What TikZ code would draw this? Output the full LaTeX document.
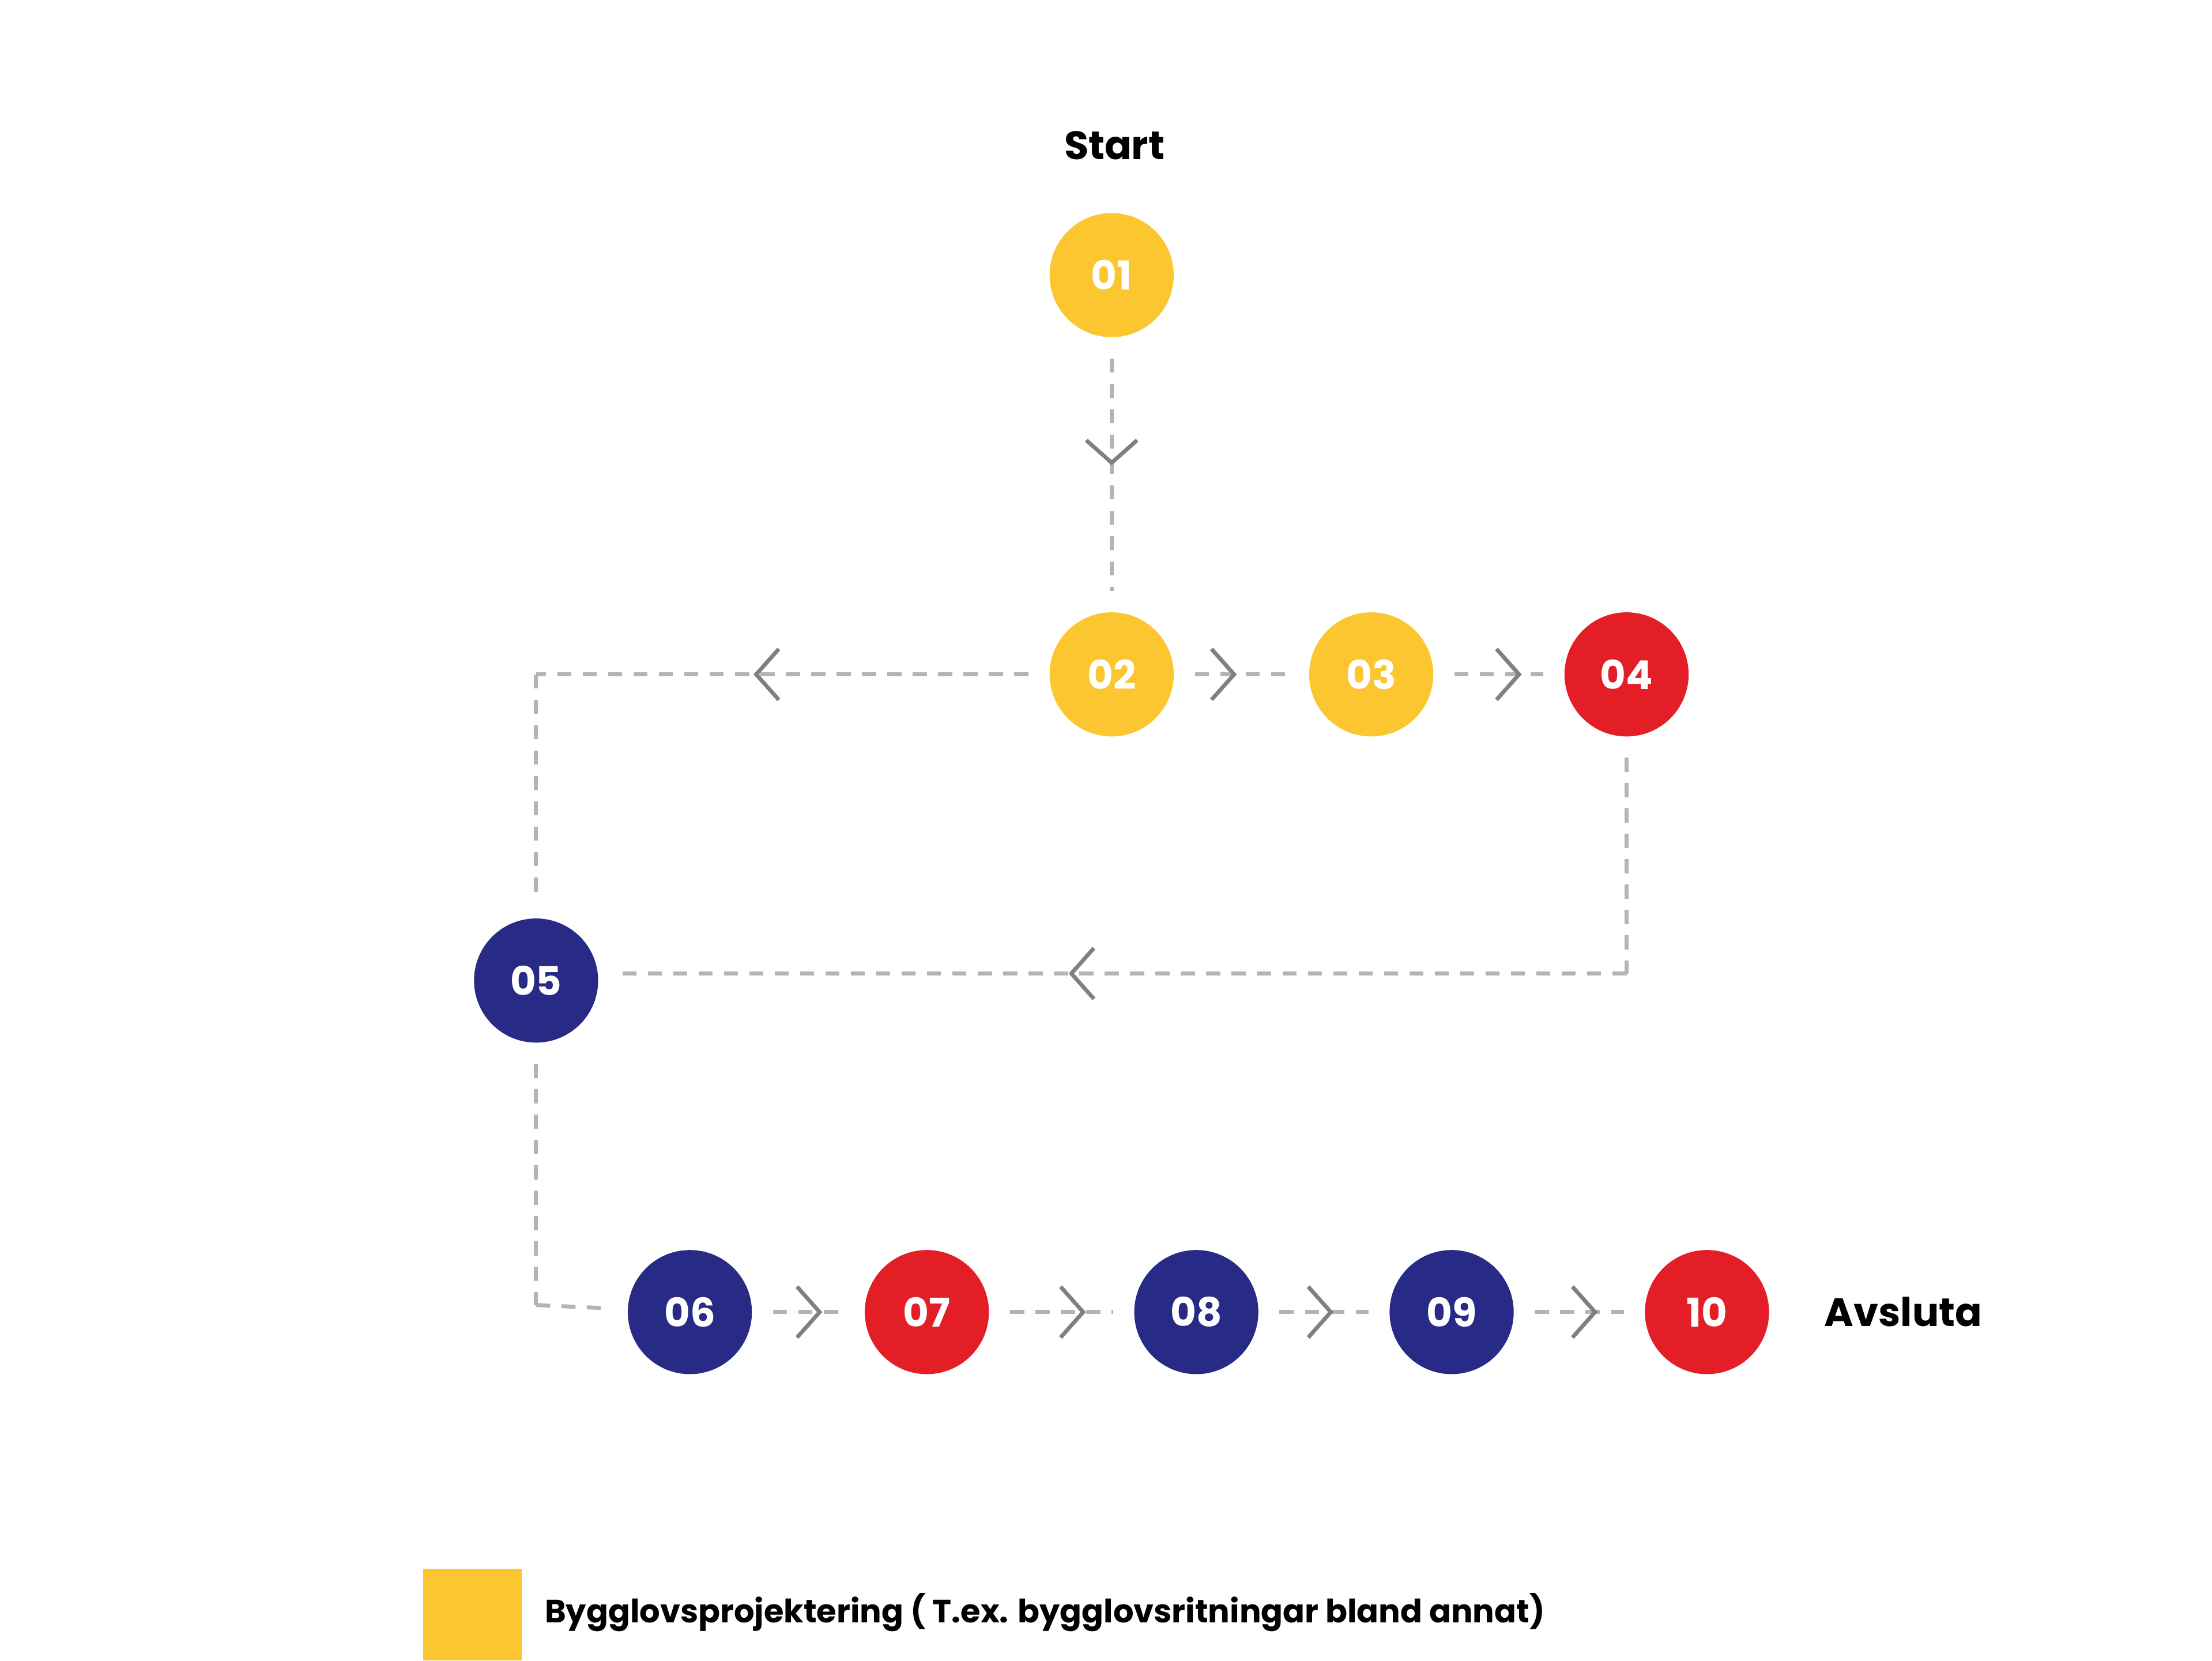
\documentclass[tikz,border=0pt]{standalone}
\usepackage{fontspec}
\setmainfont{Poppins}
\usetikzlibrary{decorations.markings}
\definecolor{cy}{HTML}{FCC630}
\definecolor{cr}{HTML}{E31E26}
\definecolor{cn}{HTML}{272B86}
\definecolor{cl}{HTML}{B4B4B4}
\definecolor{cc}{HTML}{808080}
\begin{document}
\begin{tikzpicture}[x=0.02cm,y=-0.02cm,
  stp/.style={circle,minimum size=1.76cm,inner sep=0pt,text=white,font=\bfseries\fontsize{16}{18}\selectfont,outer sep=0.3cm},
  Y/.style={stp,fill=cy}, R/.style={stp,fill=cr}, N/.style={stp,fill=cn},
  conn/.style={draw=cl,line width=1.6pt,dash pattern=on 0.2cm off 0.16cm},
  chev/.style={postaction={decorate,decoration={markings,mark=at position #1 with {\draw[cc,line width=1.6pt,solid] (-8,18)--(8,0)--(-8,-18);}}}},
  lbl/.style={font=\bfseries\fontsize{16}{18}\selectfont}]
\useasboundingbox (0,0) rectangle (1568,1177);
\node[lbl] (start) at (790,103) {Start};
\node[Y] (n1) at (788,195) {01};
\node[Y] (n2) at (788,478) {02};
\node[Y] (n3) at (972,478) {03};
\node[R] (n4) at (1153,478) {04};
\node[N] (n5) at (380,695) {05};
\node[N] (n6) at (489,930) {06};
\node[R] (n7) at (657,930) {07};
\node[N] (n8) at (848,930) {08};
\node[N] (n9) at (1029,930) {09};
\node[R] (n10) at (1210,930) {10};
\node[lbl,anchor=west] (end) at (1287,930) {Avsluta};
\coordinate (c25) at (380,478);
\coordinate (c45) at (1153,690);
\coordinate (c56) at (380,925);
\draw[conn,chev=0.4] (n1) -- (n2);
\draw[conn,chev=0.3] (n2) -- (n3);
\draw[conn,chev=0.6] (n3) -- (n4);
\draw[conn,chev=0.53] (n2) -- (c25);
\draw[conn] (c25) -- (n5);
\draw[conn] (n4) -- (c45);
\draw[conn,chev=0.54] (c45) -- (n5.east|-c45);
\draw[conn] (n5) -- (c56);
\draw[conn] (c56) -- (n6);
\draw[conn,chev=0.5] (n6) -- (n7);
\draw[conn,chev=0.6] (n7) -- (n8);
\draw[conn,chev=0.45] (n8) -- (n9);
\draw[conn,chev=0.55] (n9) -- (n10);
\fill[cy] (300,1112) rectangle (370,1177);
\node[font=\bfseries\fontsize{13}{15}\selectfont,anchor=west] (leg) at (380,1143) {Bygglovsprojektering ( T.ex. bygglovsritningar bland annat)};
\end{tikzpicture}
\end{document}
